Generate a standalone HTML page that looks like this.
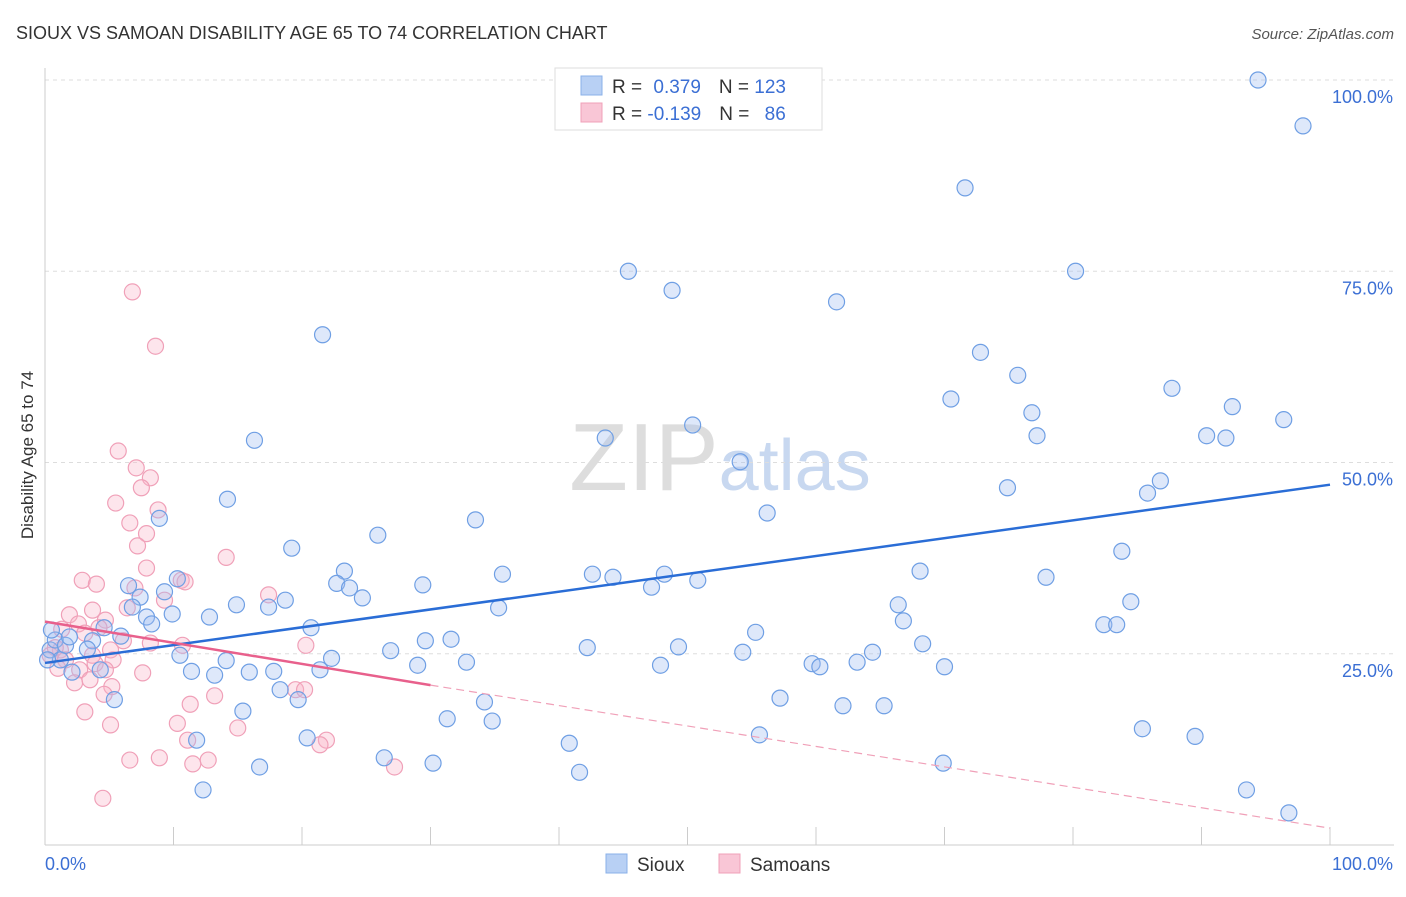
<!DOCTYPE html>
<html><head><meta charset="utf-8"><style>
body{margin:0;background:#fff;font-family:"Liberation Sans",sans-serif;}
svg text{font-family:"Liberation Sans",sans-serif;}
</style></head><body>
<svg id="chart" width="1406" height="892" xmlns="http://www.w3.org/2000/svg">
<text x="16" y="39" font-size="18" fill="#333">SIOUX VS SAMOAN DISABILITY AGE 65 TO 74 CORRELATION CHART</text>
<text x="1394" y="39" font-size="15" fill="#555" text-anchor="end" font-style="italic">Source: ZipAtlas.com</text>
<text x="720" y="490" font-size="96" text-anchor="middle" fill="#ddd" font-family="Liberation Serif">ZIP<tspan fill="#c8d8f0" font-family="Liberation Sans" font-size="72">atlas</tspan></text>
<g id="grid"></g>
<g id="axes"></g>
<g id="pink"></g>
<g id="blue"></g>
<g id="trends"></g>
<text transform="translate(33,455) rotate(-90)" font-size="17" fill="#333" text-anchor="middle">Disability Age 65 to 74</text>
<text x="45" y="870" font-size="18" fill="#3b6fd4">0.0%</text>
<text x="1393" y="870" font-size="18" fill="#3b6fd4" text-anchor="end">100.0%</text>
<g>
<rect x="555" y="68" width="267" height="62" fill="#fff" stroke="#ddd"/>
<rect x="581" y="76" width="21" height="19" fill="#b8d0f4" stroke="#8ab0e8"/>
<rect x="581" y="103" width="21" height="19" fill="#f9c6d6" stroke="#f0a0b8"/>
<text x="612" y="93" font-size="19" fill="#333">R = <tspan fill="#3b6fd4" dx="6">0.379</tspan><tspan dx="18" fill="#333">N = </tspan><tspan fill="#3b6fd4">123</tspan></text>
<text x="612" y="120" font-size="19" fill="#333">R = <tspan fill="#3b6fd4">-0.139</tspan><tspan dx="18" fill="#333">N = </tspan><tspan fill="#3b6fd4" dx="10">86</tspan></text>
</g>
<g>
<rect x="606" y="854" width="21" height="19" fill="#b8d0f4" stroke="#8ab0e8"/>
<text x="637" y="871" font-size="19" fill="#333">Sioux</text>
<rect x="719" y="854" width="21" height="19" fill="#f9c6d6" stroke="#f0a0b8"/>
<text x="750" y="871" font-size="19" fill="#333">Samoans</text>
</g>
</svg>
<script>
const yTicks=[25,50,75,100];
const yTickLabels=["25.0%","50.0%","75.0%","100.0%"];
const xTicks=[0,10,20,30,40,50,60,70,80,90,100];
const siouxX=[94.4,97.9,71.6,45.4,80.2,48.8,61.6,21.6,72.8,75.7,87.7,70.5,92.4,76.8,96.4,50.4,16.3,43.6,77.2,90.4,91.9,54.1,86.8,74.9,85.8,14.2,56.2,8.9,33.5,25.9,19.2,83.8,68.1,23.3,35.6,42.6,44.2,48.2,50.8,77.9,10.3,6.5,22.7,23.7,29.4,47.2,9.3,7.4,18.7,24.7,14.9,84.5,66.4,17.4,6.8,35.3,9.9,12.8,7.9,8.3,66.8,82.4,83.4,20.7,4.6,55.3,5.9,29.6,31.6,3.7,68.3,49.3,42.2,26.9,54.3,64.4,10.5,3.3,14.1,22.3,32.8,47.9,59.7,63.2,60.3,70.0,29.0,21.4,15.9,17.8,11.4,4.3,2.1,13.2,18.3,19.7,57.2,34.2,5.4,62.1,65.3,15.4,31.3,34.8,85.4,55.6,89.5,20.4,11.8,40.8,26.4,69.9,30.2,16.7,41.6,12.3,93.5,96.8,0.4,0.8,1.2,1.6,0.2,1.9,0.5];
const siouxY=[100,94.0,85.9,75.0,75.0,72.5,71.0,66.7,64.4,61.4,59.7,58.3,57.3,56.5,55.6,54.9,52.9,53.2,53.5,53.5,53.2,50.1,47.6,46.7,46.0,45.2,43.4,42.7,42.5,40.5,38.8,38.4,35.8,35.8,35.4,35.4,35.0,35.4,34.6,35.0,34.8,33.9,34.2,33.6,34.0,33.7,33.1,32.4,32.0,32.3,31.4,31.8,31.4,31.1,31.1,31.0,30.2,29.8,29.8,28.9,29.3,28.8,28.8,28.4,28.4,27.8,27.3,26.7,26.9,26.7,26.3,25.9,25.8,25.4,25.2,25.2,24.8,25.6,24.1,24.4,23.9,23.5,23.7,23.9,23.3,23.3,23.5,22.9,22.6,22.7,22.7,22.9,22.6,22.2,20.3,19.0,19.2,18.7,19.0,18.2,18.2,17.5,16.5,16.2,15.2,14.4,14.2,14.0,13.7,13.3,11.4,10.7,10.7,10.2,9.5,7.2,7.2,4.2,25.5,26.8,24.2,26.1,24.2,27.2,28.1];
const samoanX=[6.8,8.6,5.7,7.1,8.2,7.5,5.5,8.8,6.6,7.9,7.2,14.1,7.9,2.9,4.0,10.6,10.9,7.0,17.4,9.3,3.7,6.4,1.9,4.7,2.6,4.2,1.3,3.1,10.7,20.3,8.2,6.1,5.1,1.2,3.7,5.3,3.9,2.7,4.7,7.6,2.3,3.5,5.2,19.5,20.2,13.2,4.6,11.3,3.1,5.1,10.3,15.0,11.1,21.9,21.4,6.6,8.9,11.5,12.7,27.2,4.5,0.4,0.8,1.6,1.0];
const samoanY=[72.3,65.2,51.5,49.3,48.0,46.7,44.7,43.8,42.1,40.7,39.1,37.6,36.2,34.6,34.1,34.6,34.4,33.6,32.7,32.0,30.7,31.0,30.1,29.4,28.9,28.4,28.2,27.7,26.1,26.1,26.4,26.7,25.5,25.5,24.8,24.2,23.7,22.9,22.9,22.5,21.2,21.6,20.7,20.3,20.3,19.5,19.7,18.4,17.4,15.7,15.9,15.3,13.7,13.7,13.1,11.1,11.4,10.6,11.1,10.2,6.1,24.8,25.8,24.2,23.1];
const blueTrend=[[0,23.8],[100,47.1]];
const pinkTrend=[[0,29.2],[30,20.9],[100,2.2]];
const NS="http://www.w3.org/2000/svg";
const X0=45,X1=1330,Y0=845,Y1=80;
function sx(v){return X0+(X1-X0)*v/100;}
function sy(v){return Y0-(Y0-Y1)*v/100;}
function mk(tag,attrs,parent){const e=document.createElementNS(NS,tag);for(const k in attrs)e.setAttribute(k,attrs[k]);parent.appendChild(e);return e;}
const grid=document.getElementById('grid'),axes=document.getElementById('axes');
yTicks.forEach((t,i)=>{
 const l=mk('line',{x1:X0,x2:1394,y1:sy(t),y2:sy(t),stroke:'#ddd','stroke-dasharray':'4,4'},grid);
 
 
 const tx=mk('text',{x:1393,y:sy(t)+23,'font-size':18,fill:'#3b6fd4','text-anchor':'end'},axes);
 tx.textContent=yTickLabels[i];
 
 
});
const ax=mk('line',{x1:X0,x2:X0,y1:68,y2:Y0,stroke:'#ccc'},axes);


const bx=mk('line',{x1:X0,x2:1394,y1:Y0,y2:Y0,stroke:'#ccc'},axes);


xTicks.forEach(t=>{
 const l=mk('line',{x1:sx(t),x2:sx(t),y1:Y0,y2:Y0-18,stroke:'#ccc'},axes);
 
 
});
function pts(xs,ys,g,fill,stroke,name){
 xs.forEach((x,i)=>{
  const c=mk('circle',{cx:sx(x),cy:sy(ys[i]),r:8,fill:fill,stroke:stroke,'stroke-width':1.2},g);
  
  
 });
}
pts(samoanX,samoanY,document.getElementById('pink'),'rgba(248,180,200,0.35)','#f0a0b8','samoan-point');
pts(siouxX,siouxY,document.getElementById('blue'),'rgba(160,190,240,0.35)','#6f9fe4','sioux-point');
const tr=document.getElementById('trends');
const b=mk('line',{x1:sx(blueTrend[0][0]),y1:sy(blueTrend[0][1]),x2:sx(blueTrend[1][0]),y2:sy(blueTrend[1][1]),stroke:'#2a6dd6','stroke-width':2.5},tr);


const p1=mk('line',{x1:sx(pinkTrend[0][0]),y1:sy(pinkTrend[0][1]),x2:sx(pinkTrend[1][0]),y2:sy(pinkTrend[1][1]),stroke:'#e8608c','stroke-width':2.5},tr);


const p2=mk('line',{x1:sx(pinkTrend[1][0]),y1:sy(pinkTrend[1][1]),x2:sx(pinkTrend[2][0]),y2:sy(pinkTrend[2][1]),stroke:'#f0a0b8','stroke-width':1.2,'stroke-dasharray':'8,5'},tr);


</script>
</body></html>
